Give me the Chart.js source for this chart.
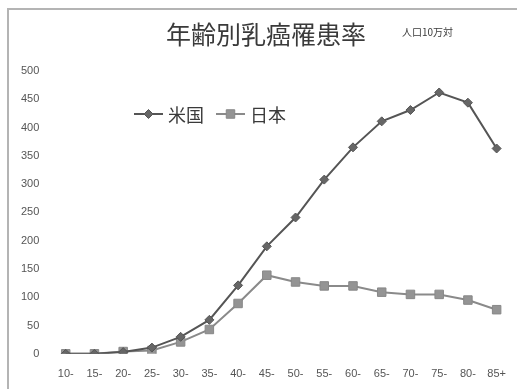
<!DOCTYPE html>
<html>
<head>
<meta charset="utf-8">
<script src="https://cdn.jsdelivr.net/npm/chart.js@4/dist/chart.umd.min.js"></script>
<style>
  html, body { margin: 0; padding: 0; background: #fff; }
  #wrap { position: relative; width: 517px; height: 389px; }
  #frame { position: absolute; left: 7px; top: 8px; right: 0; bottom: 0;
    border-left: 2px solid #b4b4b4; border-top: 2px solid #b4b4b4; }
  canvas { position: absolute; left: 0; top: 0; }
</style>
</head>
<body>
<div id="wrap">
  <div id="frame"></div>
  <canvas id="chart" width="517" height="389"></canvas>
</div>
<script>
var titleText = "年齢別乳癌罹患率";
var unitText = "人口10万対";
var ageGroups = ["10-", "15-", "20-", "25-", "30-", "35-", "40-", "45-", "50-", "55-", "60-", "65-", "70-", "75-", "80-", "85+"];
var usRates = [0, 0, 3, 11, 30, 60, 121, 190, 241, 308, 365, 411, 431, 462, 444, 363];
var jpRates = [0, 0, 4, 6, 21, 43, 89, 139, 127, 120, 120, 109, 105, 105, 95, 78];
var seriesNames = ["米国", "日本"];
var yTicks = [0, 50, 100, 150, 200, 250, 300, 350, 400, 450, 500];

var cjk = "'Noto Sans CJK JP', 'Noto Sans', sans-serif";

// title, unit note and the in-plot legend
var decor = {
  id: 'decor',
  afterDraw: function(chart) {
    var ctx = chart.ctx;
    ctx.save();
    ctx.fillStyle = '#3a3a3a';
    ctx.textBaseline = 'middle';
    ctx.textAlign = 'center';
    ctx.font = "25px " + cjk;
    ctx.fillText(titleText, 266, 34);
    ctx.textAlign = 'left';
    ctx.font = "10px " + cjk;
    ctx.fillText(unitText, 402, 32);

    var items = [{x: 134, ds: 0}, {x: 216, ds: 1}];
    items.forEach(function(it) {
      var ds = chart.data.datasets[it.ds];
      var y = 114;
      var cx = it.x + 14.5;
      ctx.strokeStyle = ds.borderColor;
      ctx.lineWidth = 2;
      ctx.beginPath();
      ctx.moveTo(it.x, y);
      ctx.lineTo(it.x + 29, y);
      ctx.stroke();
      ctx.fillStyle = ds.pointBackgroundColor;
      ctx.strokeStyle = ds.pointBorderColor;
      ctx.lineWidth = 1;
      ctx.beginPath();
      if (ds.pointStyle === 'rect') {
        var s = ds.pointRadius * Math.SQRT1_2;
        ctx.rect(cx - s, y - s, 2 * s, 2 * s);
      } else {
        var r = ds.pointRadius;
        ctx.moveTo(cx, y - r);
        ctx.lineTo(cx + r, y);
        ctx.lineTo(cx, y + r);
        ctx.lineTo(cx - r, y);
        ctx.closePath();
      }
      ctx.fill();
      ctx.stroke();
      ctx.fillStyle = '#3a3a3a';
      ctx.font = "18px " + cjk;
      ctx.fillText(ds.label, it.x + 34, y + 1);
    });
    ctx.restore();
  }
};

var ctx = document.getElementById('chart').getContext('2d');
var chart = new Chart(ctx, {
  type: 'line',
  data: {
    labels: ageGroups,
    datasets: [{
      label: seriesNames[0],
      data: usRates,
      borderColor: '#555',
      borderWidth: 2,
      pointStyle: 'rectRot',
      pointRadius: 4.5,
      pointBackgroundColor: '#666',
      pointBorderColor: '#555',
      pointBorderWidth: 1,
      tension: 0
    }, {
      label: seriesNames[1],
      data: jpRates,
      borderColor: '#8a8a8a',
      borderWidth: 2,
      pointStyle: 'rect',
      pointRadius: 6,
      pointBackgroundColor: '#949494',
      pointBorderColor: '#888',
      pointBorderWidth: 1,
      tension: 0
    }]
  },
  options: {
    responsive: false,
    animation: false,
    layout: { autoPadding: false, padding: { top: 71, left: 9, right: 6, bottom: -6 } },
    plugins: { legend: { display: false }, title: { display: false }, tooltip: { enabled: false } },
    scales: {
      x: {
        offset: true,
        // tick padding otherwise leaks into the side padding
        afterFit: function(axis) { axis.paddingRight = 0; axis.paddingLeft = 0; },
        grid: { display: false, drawTicks: false },
        border: { display: false },
        ticks: { color: '#555', padding: 14, maxRotation: 0, autoSkip: false,
          font: { family: "'Liberation Sans', Arial, sans-serif", size: 11 } }
      },
      y: {
        min: 0,
        max: 500,
        afterBuildTicks: function(axis) {
          axis.ticks = yTicks.map(function(v) { return { value: v }; });
        },
        grid: { display: false, drawTicks: false },
        border: { display: false },
        ticks: { color: '#555', padding: 12,
          font: { family: "'Liberation Sans', Arial, sans-serif", size: 11 } }
      }
    }
  },
  plugins: [decor]
});
</script>
</body>
</html>
